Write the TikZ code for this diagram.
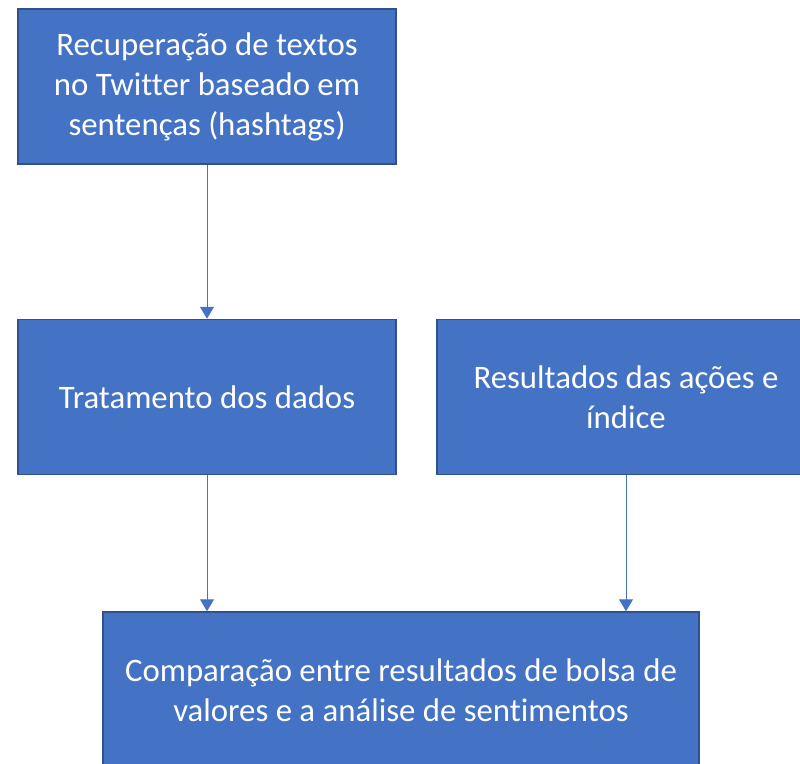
\documentclass[tikz,border=0pt]{standalone}
\usepackage{fontspec}
\setmainfont[Ligatures=NoCommon]{Carlito}
\usetikzlibrary{arrows.meta}
\usetikzlibrary{positioning}
\definecolor{azul}{HTML}{4472C4}
\definecolor{borda}{HTML}{2F528F}

\begin{document}
\begin{tikzpicture}[x=1pt,y=-1pt]
      \useasboundingbox (0,0) rectangle (800,763);
      \clip (0,0) rectangle (800,763);
      \tikzstyle{etapa}=[draw=borda, line width=1.5pt, fill=azul, text=white, align=center,
                         minimum width=378pt, minimum height=155pt, inner sep=0pt,
                         font=\fontsize{32.8}{40}\selectfont]
      \tikzstyle{seta}=[azul, line width=1pt, -{Triangle[width=14pt,length=12pt]}]
      \node[etapa] (n1) at (207,86.5) {Recuperação de textos\\no Twitter baseado em\\sentenças (hashtags)};
      \node[etapa] (n2) at (207,397)  {Tratamento dos dados};
      \node[etapa] (n3) at (626,397)  {Resultados das ações e\\índice};
      \node[etapa, minimum width=596pt, minimum height=156pt] (n4) at (401,690)
            {Comparação entre resultados de bolsa de\\valores e a análise de sentimentos};

      \draw[seta] (n1) -- (n2);
      \draw[seta] (n2) -- (n2 |- n4.north);
      \draw[seta] (n3) -- (n3 |- n4.north);
\end{tikzpicture}
\end{document}
